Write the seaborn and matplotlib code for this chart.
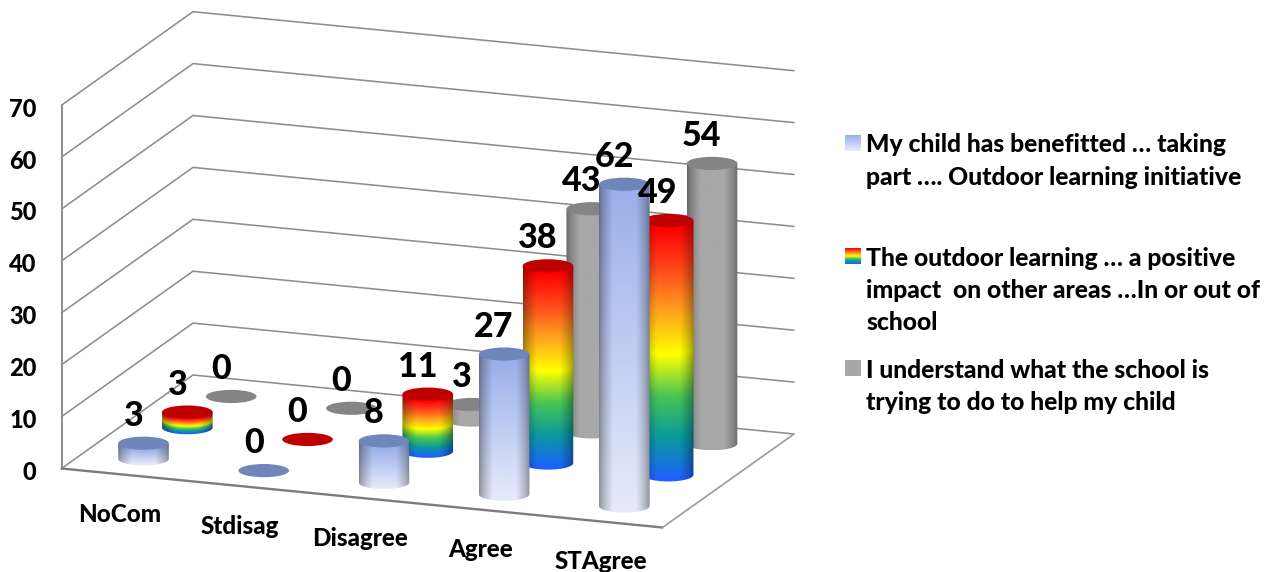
import numpy as np
import matplotlib
matplotlib.use("Agg")
import matplotlib.pyplot as plt
from matplotlib.patches import Ellipse, PathPatch
from matplotlib.path import Path
import seaborn as sns

categories = ["NoCom", "Stdisag", "Disagree", "Agree", "STAgree"]
benefitted = [3, 0, 8, 27, 62]
positive_impact = [3, 0, 11, 38, 49]
understand = [0, 0, 3, 43, 54]
legend_labels = [
    "My child has benefitted … taking\npart …. Outdoor learning initiative",
    "The outdoor learning … a positive\nimpact  on other areas …In or out of\nschool",
    "I understand what the school is\ntrying to do to help my child",
]
value_ticks = [0, 10, 20, 30, 40, 50, 60, 70]

sns.set_theme(style="white")
plt.rcParams["font.family"] = ["Lato", "DejaVu Sans"]
HEAVY = 900

fig = plt.figure(figsize=(12.79, 5.72), dpi=100)
ax = fig.add_axes([0, 0, 1, 1])
ax.set_axis_off()

# Oblique projection of (category position, depth, value) on to the canvas
ORIGIN = np.array([61.5, 468.5])
ALONG = np.array([601.0, 59.0]) / len(categories)
DEPTH = np.array([131.5, -93.5])
UNIT = 5.19
RX, RY = 25.3, 6.6


def project(cat, depth, value):
    return ORIGIN + cat * ALONG + depth * DEPTH - np.array([0.0, value * UNIT])


blue_map = sns.blend_palette(["#9bb0ea", "#b4c4f1", "#cdd8f6", "#e6ebfb"], as_cmap=True)
rainbow_map = sns.blend_palette(
    ["#ff0000", "#ff4a1c", "#ffa51e", "#ffff00", "#45c455", "#0a98a0", "#1f60ff"], as_cmap=True
)
gray_map = sns.blend_palette(["#a8a8a8", "#a8a8a8"], as_cmap=True)

series = [
    (benefitted, blue_map, "#6f86ba", 1 / 6),
    (positive_impact, rainbow_map, "#bf0000", 3 / 6),
    (understand, gray_map, "#858585", 5 / 6),
]

# Walls and floor
wall_color = "#8e8e8e"
for tick in value_ticks:
    pts = np.array([project(0, 0, tick), project(0, 1, tick), project(len(categories), 1, tick)])
    ax.plot(pts[:, 0], pts[:, 1], color=wall_color, lw=1.15, solid_joinstyle="miter", zorder=1)
left_edge = np.array([project(0, 0, 0), project(0, 0, value_ticks[-1])])
ax.plot(left_edge[:, 0], left_edge[:, 1], color=wall_color, lw=1.4, zorder=1)
front_edge = np.array([project(0, 0, 0), project(len(categories), 0, 0)])
ax.plot(front_edge[:, 0], front_edge[:, 1], color="#7c7c7c", lw=1.7, zorder=1)
right_edge = np.array([project(len(categories), 0, 0), project(len(categories), 1, 0)])
ax.plot(right_edge[:, 0], right_edge[:, 1], color="#a0a0a0", lw=1.3, zorder=1)


def draw_cylinder(cat, depth, value, cmap, cap_color, z):
    base = project(cat, depth, 0)
    top = project(cat, depth, value)
    height = base[1] - top[1]
    if height > 0:
        xs = np.linspace(-1, 1, 80)
        ys = np.arange(top[1] - 1, base[1] + RY + 1, 1.0)
        grid_x, grid_y = np.meshgrid(xs, ys)
        curve = RY * np.sqrt(np.clip(1 - grid_x**2, 0, 1))
        frac = np.clip((grid_y - top[1] - curve) / height, 0, 1)
        rgb = cmap(frac)[..., :3]
        # Round shading: darker towards the sides of the cylinder
        shade = 0.60 + 0.40 * np.clip((1 - np.abs(grid_x)) / 0.55, 0, 1) ** 0.7
        rgb = np.clip(rgb * shade[..., None], 0, 1)
        image = ax.imshow(
            rgb, extent=(base[0] - RX, base[0] + RX, ys[-1], ys[0]),
            aspect="auto", interpolation="bilinear", zorder=z,
        )
        angles = np.linspace(0, np.pi, 60)
        lower = np.column_stack([base[0] + RX * np.cos(angles), base[1] + RY * np.sin(angles)])
        verts = np.vstack([[base[0] + RX, top[1]], lower, [base[0] - RX, top[1]], [base[0] + RX, top[1]]])
        outline = PathPatch(Path(verts), transform=ax.transData, fc="none", ec="none")
        ax.add_patch(outline)
        image.set_clip_path(outline)
    ax.add_patch(Ellipse(top, 2 * RX, 2 * RY, fc=cap_color, ec="none", zorder=z + 0.5))


# Cylinders are painted from the back of the floor to the front
marks = []
for values, cmap, cap, depth in series:
    for i, value in enumerate(values):
        marks.append((project(i + 0.5, depth, 0)[1], i + 0.5, depth, value, cmap, cap))
marks.sort(key=lambda m: m[0])
for order, (_, cat, depth, value, cmap, cap) in enumerate(marks):
    draw_cylinder(cat, depth, value, cmap, cap, 2 + order)
    top = project(cat, depth, value)
    ax.text(top[0] - 10, top[1] - 27.5, str(value), fontsize=24.5, fontweight=HEAVY,
            ha="center", va="center", color="black", zorder=100)

# Value axis
for tick in value_ticks:
    pos = project(0, 0, tick)
    ax.text(pos[0] - 25, pos[1] + 4, str(tick), fontsize=17, fontweight=HEAVY,
            ha="right", va="center", color="black")

# Category axis
for i, name in enumerate(categories):
    pos = project(i + 0.5, 0, 0)
    ax.text(pos[0] - 2, pos[1] + 40, name, fontsize=17.4, fontweight=HEAVY,
            ha="center", va="center", color="black")

# Legend
legend_tops = [143, 256, 368]
swatches = [blue_map, rainbow_map, gray_map]
ramp = np.linspace(0, 1, 32)[:, None]
for label, y, swatch in zip(legend_labels, legend_tops, swatches):
    ax.imshow(swatch(ramp)[..., :3], extent=(845, 860.5, y + 8, y - 8), aspect="auto", zorder=5)
    for j, line in enumerate(label.split("\n")):
        ax.text(866.5, y + 2 + j * 32.3, line, fontsize=17.8, fontweight=HEAVY,
                ha="left", va="center", color="black")

ax.set_xlim(0, 1279)
ax.set_ylim(572, 0)
fig.savefig("out.png", dpi=100, facecolor="white")
